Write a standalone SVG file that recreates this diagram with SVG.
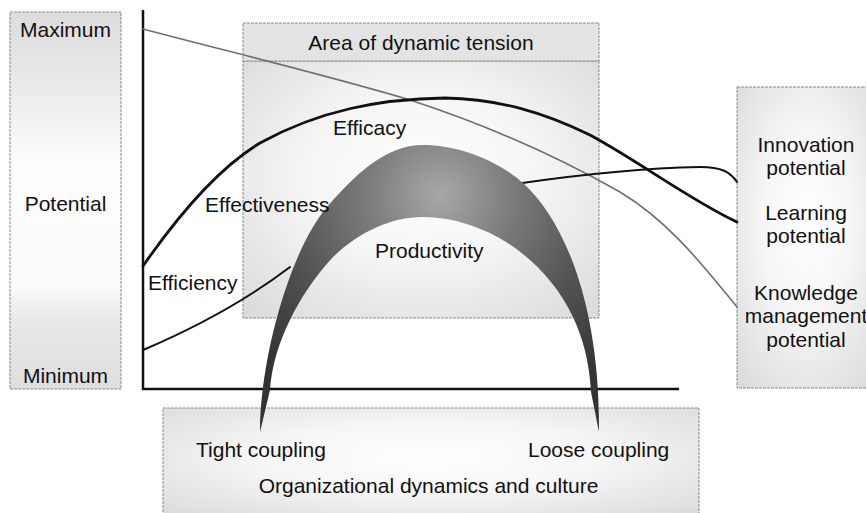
<svg xmlns="http://www.w3.org/2000/svg" width="866" height="513" viewBox="0 0 866 513">
  <defs>
    <linearGradient id="gradScale" x1="0" y1="0" x2="0" y2="1">
      <stop offset="0" stop-color="#dcdcdc"/>
      <stop offset="0.22" stop-color="#ececec"/>
      <stop offset="0.4" stop-color="#fdfdfd"/>
      <stop offset="0.72" stop-color="#fbfbfb"/>
      <stop offset="0.82" stop-color="#e8e8e8"/>
      <stop offset="1" stop-color="#dedede"/>
    </linearGradient>
    <radialGradient id="gradPanel" cx="0.5" cy="0.45" r="0.7">
      <stop offset="0" stop-color="#ffffff"/>
      <stop offset="0.45" stop-color="#f6f6f6"/>
      <stop offset="1" stop-color="#dcdcdc"/>
    </radialGradient>
    <radialGradient id="gradArch" gradientUnits="userSpaceOnUse" cx="440" cy="195" r="240">
      <stop offset="0" stop-color="#a8a8a8"/>
      <stop offset="0.3" stop-color="#7c7c7c"/>
      <stop offset="0.65" stop-color="#525252"/>
      <stop offset="1" stop-color="#333333"/>
    </radialGradient>
  </defs>
  <style>
    .box { stroke: #8a8a8a; stroke-width: 1; stroke-dasharray: 3 1; }
    .lbl { font-family: "Liberation Sans", Arial, Helvetica, sans-serif; font-size: 21px; fill: #111; }
    .mid { text-anchor: middle; }
    .axis { stroke: #111; stroke-width: 2.5; fill: none; }
    .thick { stroke: #111; stroke-width: 2.8; fill: none; stroke-linecap: round; }
    .thin { stroke: #111; stroke-width: 2; fill: none; stroke-linecap: round; }
    .gray { stroke: #6e6e6e; stroke-width: 1.6; fill: none; stroke-linecap: round; }
  </style>

  <!-- potential scale panel -->
  <g id="scale">
    <rect class="box" x="10" y="12" width="111" height="377" fill="url(#gradScale)"/>
    <text class="lbl mid" x="65.5" y="37">Maximum</text>
    <text class="lbl mid" x="65.5" y="211">Potential</text>
    <text class="lbl mid" x="65.5" y="383">Minimum</text>
  </g>

  <!-- area of dynamic tension -->
  <g id="tension">
    <rect class="box" x="243" y="61" width="356" height="257" fill="url(#gradPanel)"/>
    <rect class="box" x="243" y="23" width="356" height="38" fill="#e3e3e3"/>
    <text class="lbl mid" x="421" y="50">Area of dynamic tension</text>
  </g>

  <!-- potentials panel on the right -->
  <g id="potentials">
    <rect class="box" x="737" y="87" width="140" height="301" fill="url(#gradPanel)"/>
    <text class="lbl mid" x="806" y="152">Innovation</text>
    <text class="lbl mid" x="806" y="175">potential</text>
    <text class="lbl mid" x="806" y="220">Learning</text>
    <text class="lbl mid" x="806" y="243">potential</text>
    <text class="lbl mid" x="806" y="300">Knowledge</text>
    <text class="lbl mid" x="806" y="323">management</text>
    <text class="lbl mid" x="806" y="347">potential</text>
  </g>

  <!-- organizational dynamics panel -->
  <g id="culture">
    <rect class="box" x="163" y="408" width="536" height="110" fill="url(#gradPanel)"/>
    <text class="lbl" x="196" y="457">Tight coupling</text>
    <text class="lbl" x="528" y="457">Loose coupling</text>
    <text class="lbl mid" x="428.5" y="493">Organizational dynamics and culture</text>
  </g>

  <!-- axes and curves -->
  <g id="connectors">
    <path class="axis" d="M143,10 V389 H679"/>
    <!-- knowledge management potential -->
    <path class="gray" d="M143,29 C230,52 330,76 410,100 C490,126 560,158 620,192 C670,222 705,268 737,307"/>
    <!-- effectiveness / efficacy / learning potential -->
    <path class="thick" d="M143,266 C175,220 215,170 260,143 C320,110 380,99 445,98 C500,99 545,113 590,135 C640,162 690,200 737,222"/>
    <!-- efficiency -->
    <path class="thin" d="M143,350 C190,330 240,305 290,267"/>
    <!-- innovation potential -->
    <path class="thin" d="M515,184 C570,176 640,168 700,167 C722,167 730,172 737,182"/>
  </g>

  <!-- productivity arch -->
  <g id="productivity">
    <path fill="url(#gradArch)" d="M260,432 C260,360 289,252 327,207 C355,175 385,145 423,145 C458,145 497,160 523,183 C562,218 600,300 599,432 L591,392 C589,350 575,300 530,260 C500,233 460,217 423,217 C390,217 358,233 333,257 C298,295 273,345 270,390 Z"/>
    <text class="lbl" x="375" y="258">Productivity</text>
  </g>

  <g id="curve-labels">
    <text class="lbl" x="333" y="135">Efficacy</text>
    <text class="lbl" x="205" y="212">Effectiveness</text>
    <text class="lbl" x="148" y="290">Efficiency</text>
  </g>
</svg>
